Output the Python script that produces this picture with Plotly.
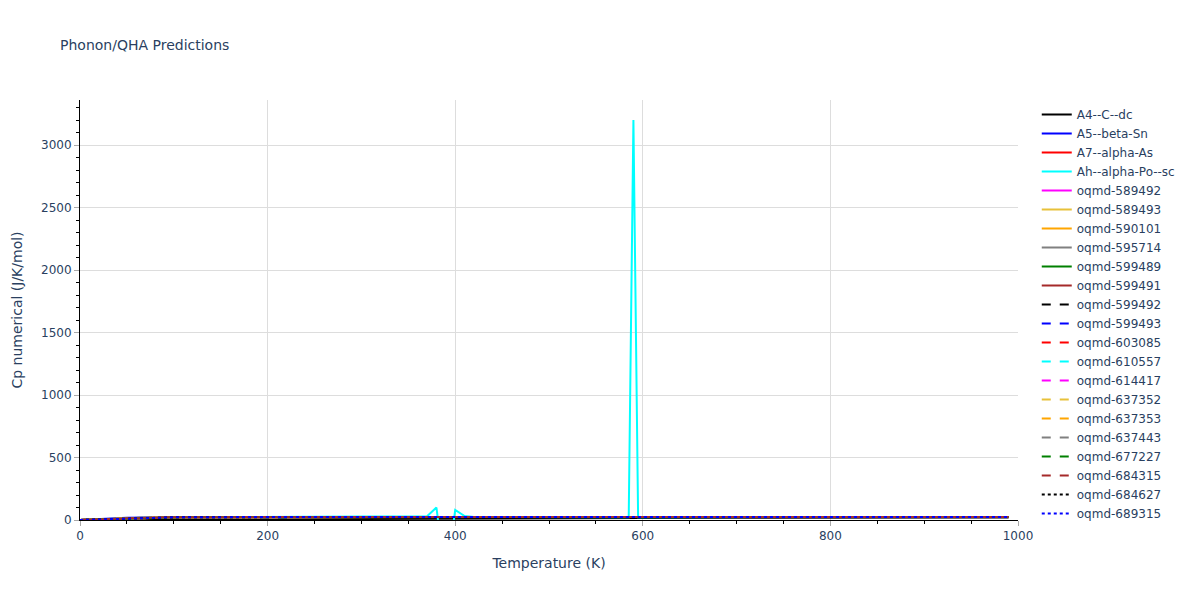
import plotly.graph_objects as go

# Temperatures (K) shared by the smooth curves
temps = [0, 25, 50, 75, 100, 150, 200, 250, 300, 400, 500, 600, 700, 800, 900, 990]

series_names = [
    "A4--C--dc", "A5--beta-Sn", "A7--alpha-As", "Ah--alpha-Po--sc",
    "oqmd-589492", "oqmd-589493", "oqmd-590101", "oqmd-595714",
    "oqmd-599489", "oqmd-599491", "oqmd-599492", "oqmd-599493",
    "oqmd-603085", "oqmd-610557", "oqmd-614417", "oqmd-637352",
    "oqmd-637353", "oqmd-637443", "oqmd-677227", "oqmd-684315",
    "oqmd-684627", "oqmd-689315",
]

cp_values = {
    "A4--C--dc":    [0, 0.01, 0.08, 0.3, 0.8, 2.4, 4.4, 6.5, 8.5, 12.0, 14.8, 16.8, 18.3, 19.4, 20.2, 20.8],
    "A5--beta-Sn":  [0, 9.5, 17.8, 20.9, 22.4, 23.6, 24.1, 24.4, 24.5, 24.7, 24.8, 24.85, 24.9, 24.9, 24.9, 24.95],
    "A7--alpha-As": [0, 6.2, 15.2, 19.5, 21.5, 23.1, 23.8, 24.2, 24.4, 24.6, 24.7, 24.8, 24.85, 24.9, 24.9, 24.9],
    "oqmd-589492":  [0, 5.1, 14.0, 18.8, 21.1, 22.9, 23.7, 24.1, 24.3, 24.6, 24.7, 24.8, 24.85, 24.9, 24.9, 24.9],
    "oqmd-589493":  [0, 4.6, 13.2, 18.3, 20.8, 22.7, 23.6, 24.0, 24.3, 24.6, 24.7, 24.8, 24.85, 24.9, 24.9, 24.9],
    "oqmd-590101":  [0, 3.8, 12.1, 17.6, 20.3, 22.5, 23.4, 23.9, 24.2, 24.5, 24.7, 24.8, 24.85, 24.9, 24.9, 24.9],
    "oqmd-595714":  [0, 2.9, 10.6, 16.5, 19.6, 22.1, 23.2, 23.8, 24.1, 24.5, 24.7, 24.8, 24.85, 24.9, 24.9, 24.9],
    "oqmd-599489":  [0, 5.5, 14.5, 19.1, 21.3, 23.0, 23.7, 24.1, 24.3, 24.6, 24.7, 24.8, 24.85, 24.9, 24.9, 24.9],
    "oqmd-599491":  [0, 6.8, 15.7, 19.8, 21.7, 23.2, 23.9, 24.2, 24.4, 24.6, 24.75, 24.8, 24.85, 24.9, 24.9, 24.9],
    "oqmd-599492":  [0, 4.2, 12.8, 18.0, 20.6, 22.6, 23.5, 24.0, 24.2, 24.55, 24.7, 24.8, 24.85, 24.9, 24.9, 24.9],
    "oqmd-599493":  [0, 7.4, 16.3, 20.1, 21.9, 23.3, 23.9, 24.2, 24.4, 24.6, 24.75, 24.8, 24.85, 24.9, 24.9, 24.9],
    "oqmd-603085":  [0, 3.3, 11.4, 17.1, 20.0, 22.3, 23.3, 23.8, 24.1, 24.5, 24.7, 24.8, 24.85, 24.9, 24.9, 24.9],
    "oqmd-610557":  [0, 5.8, 14.8, 19.3, 21.4, 23.0, 23.8, 24.1, 24.35, 24.6, 24.7, 24.8, 24.85, 24.9, 24.9, 24.9],
    "oqmd-614417":  [0, 4.9, 13.6, 18.6, 21.0, 22.8, 23.6, 24.0, 24.3, 24.6, 24.7, 24.8, 24.85, 24.9, 24.9, 24.9],
    "oqmd-637352":  [0, 6.5, 15.5, 19.6, 21.6, 23.1, 23.8, 24.2, 24.4, 24.6, 24.7, 24.8, 24.85, 24.9, 24.9, 24.9],
    "oqmd-637353":  [0, 3.6, 11.8, 17.4, 20.2, 22.4, 23.4, 23.9, 24.2, 24.5, 24.7, 24.8, 24.85, 24.9, 24.9, 24.9],
    "oqmd-637443":  [0, 5.3, 14.2, 18.9, 21.2, 22.9, 23.7, 24.1, 24.3, 24.6, 24.7, 24.8, 24.85, 24.9, 24.9, 24.9],
    "oqmd-677227":  [0, 4.4, 13.0, 18.1, 20.7, 22.6, 23.5, 24.0, 24.25, 24.55, 24.7, 24.8, 24.85, 24.9, 24.9, 24.9],
    "oqmd-684315":  [0, 6.0, 15.0, 19.4, 21.5, 23.0, 23.8, 24.15, 24.35, 24.6, 24.7, 24.8, 24.85, 24.9, 24.9, 24.9],
    "oqmd-684627":  [0, 5.0, 13.8, 18.7, 21.0, 22.8, 23.6, 24.05, 24.3, 24.6, 24.7, 24.8, 24.85, 24.9, 24.9, 24.9],
    "oqmd-689315":  [0, 5.6, 14.6, 19.2, 21.3, 23.0, 23.7, 24.1, 24.3, 24.6, 24.7, 24.8, 24.85, 24.9, 24.9, 24.9],
}

# Ah--alpha-Po--sc has its own (irregular) temperature grid with spikes
po_temps = [0, 25, 50, 75, 100, 150, 200, 250, 300, 350, 370, 380, 390, 400, 410, 420,
            450, 500, 550, 580, 585, 590, 595, 600, 650, 700, 800, 900, 990]
po_cp = [0, 7, 16, 20, 22, 24, 25, 27, 31, 32, 31, 100, -500, 80, 32, 24,
         23, 23, 23, 23, 23, 3200, 23, 23, 23, 23, 24, 24, 24]

palette = ["black", "blue", "red", "cyan", "magenta", "#e8c13a",
           "orange", "gray", "green", "brown"]

fig = go.Figure()
for i, name in enumerate(series_names):
    color = palette[i % 10]
    dash = "solid" if i < 10 else ("dash" if i < 20 else "dot")
    if name == "Ah--alpha-Po--sc":
        x, y = po_temps, po_cp
    else:
        x, y = temps, cp_values[name]
    fig.add_trace(go.Scatter(x=x, y=y, mode="lines", name=name,
                             line=dict(color=color, dash=dash, width=2)))

axis_common = dict(
    showline=True, linecolor="black", linewidth=1,
    showgrid=True, gridcolor="#dddddd",
    ticks="outside", ticklen=5, tickcolor="#aaaaaa",
    zeroline=False,
)

fig.update_layout(
    width=1200, height=600,
    font=dict(family="Verdana, 'DejaVu Sans', sans-serif"),
    title=dict(text="Phonon/QHA Predictions", font=dict(size=14)),
    plot_bgcolor="white", paper_bgcolor="white",
    margin=dict(l=80, r=182, t=100, b=80),
    xaxis=dict(title="Temperature (K)", range=[0, 1000], dtick=200,
               minor=dict(ticks="outside", dtick=50, ticklen=3, tickcolor="black"),
               **axis_common),
    yaxis=dict(title="Cp numerical (J/K/mol)", range=[0, 3360], dtick=500,
               minor=dict(ticks="outside", dtick=100, ticklen=3, tickcolor="black"),
               **axis_common),
    legend=dict(font=dict(size=12), maxheight=600),
)

fig.write_html("out.html", config={"displayModeBar": False},
               post_script="document.body.style.margin='0';")
